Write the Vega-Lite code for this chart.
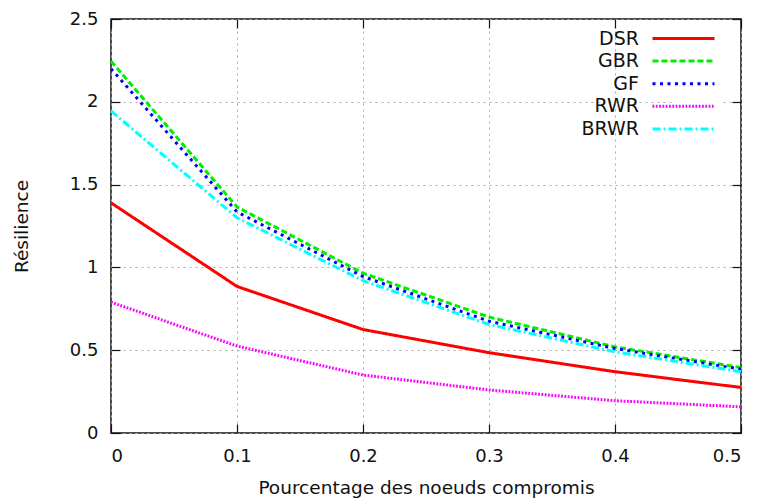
{
  "$schema": "https://vega.github.io/schema/vega-lite/v6.json",
  "autosize": "none",
  "width": 630,
  "height": 414,
  "padding": {"left": 111, "top": 19, "right": 19, "bottom": 65},
  "background": "white",
  "config": {
    "font": "DejaVu Sans",
    "view": {"stroke": "#111111", "strokeWidth": 1.5},
    "axis": {
      "domain": false,
      "labelFont": "DejaVu Sans",
      "titleFont": "DejaVu Sans",
      "labelFontSize": 18,
      "titleFontSize": 18.5,
      "labelColor": "#111111",
      "titleColor": "#111111",
      "titleFontWeight": "normal",
      "tickColor": "#111111",
      "tickWidth": 1.2,
      "tickSize": -9,
      "gridColor": "#aaaaaa",
      "gridDash": [2, 4],
      "gridWidth": 1
    }
  },
  "data": {
    "values": [
      {"x": 0, "s": "DSR", "y": 1.39},
      {"x": 0.1, "s": "DSR", "y": 0.885},
      {"x": 0.2, "s": "DSR", "y": 0.625},
      {"x": 0.3, "s": "DSR", "y": 0.485},
      {"x": 0.4, "s": "DSR", "y": 0.37},
      {"x": 0.5, "s": "DSR", "y": 0.275},
      {"x": 0, "s": "GBR", "y": 2.245},
      {"x": 0.1, "s": "GBR", "y": 1.365},
      {"x": 0.2, "s": "GBR", "y": 0.965},
      {"x": 0.3, "s": "GBR", "y": 0.7},
      {"x": 0.4, "s": "GBR", "y": 0.52},
      {"x": 0.5, "s": "GBR", "y": 0.395},
      {"x": 0, "s": "GF", "y": 2.2},
      {"x": 0.1, "s": "GF", "y": 1.335},
      {"x": 0.2, "s": "GF", "y": 0.945},
      {"x": 0.3, "s": "GF", "y": 0.675},
      {"x": 0.4, "s": "GF", "y": 0.51},
      {"x": 0.5, "s": "GF", "y": 0.385},
      {"x": 0, "s": "RWR", "y": 0.79},
      {"x": 0.1, "s": "RWR", "y": 0.525},
      {"x": 0.2, "s": "RWR", "y": 0.35},
      {"x": 0.3, "s": "RWR", "y": 0.26},
      {"x": 0.4, "s": "RWR", "y": 0.195},
      {"x": 0.5, "s": "RWR", "y": 0.158},
      {"x": 0, "s": "BRWR", "y": 1.945},
      {"x": 0.1, "s": "BRWR", "y": 1.3},
      {"x": 0.2, "s": "BRWR", "y": 0.92},
      {"x": 0.3, "s": "BRWR", "y": 0.655},
      {"x": 0.4, "s": "BRWR", "y": 0.49},
      {"x": 0.5, "s": "BRWR", "y": 0.37}
    ]
  },
  "resolve": {"axis": {"x": "independent", "y": "independent"}},
  "layer": [
    {
      "mark": {"type": "line", "strokeWidth": 3, "strokeCap": "butt"},
      "encoding": {
        "x": {
          "field": "x", "type": "quantitative",
          "scale": {"domain": [0, 0.5], "nice": false, "zero": false},
          "axis": {"orient": "bottom", "values": [0, 0.1, 0.2, 0.3, 0.4, 0.5], "format": "~g", "labelPadding": 23, "title": "Pourcentage des noeuds compromis", "titlePadding": 13, "grid": true}
        },
        "y": {
          "field": "y", "type": "quantitative",
          "scale": {"domain": [0, 2.5], "nice": false},
          "axis": {"orient": "left", "values": [0, 0.5, 1, 1.5, 2, 2.5], "format": "~g", "labelPadding": 22, "title": "Résilience", "titlePadding": 38, "grid": true}
        },
        "color": {
          "field": "s", "type": "nominal",
          "scale": {"domain": ["DSR", "GBR", "GF", "RWR", "BRWR"], "range": ["#ff0000", "#00ee00", "#0000ff", "#ff00ff", "#00ffff"]},
          "legend": {
            "title": null,
            "orient": "none",
            "legendX": 563,
            "legendY": 10,
            "padding": 0,
            "fillColor": "white",
            "symbolType": "M-6.2,0H6.2",
            "symbolSize": 100,
            "symbolStrokeWidth": 3,
            "rowPadding": 2.6,
            "labelAlign": "right",
            "labelOffset": -54,
            "labelFontSize": 19,
            "labelFont": "DejaVu Sans",
            "labelColor": "#111111",
            "labelLimit": 200
          }
        },
        "strokeDash": {
          "field": "s", "type": "nominal",
          "scale": {"domain": ["DSR", "GBR", "GF", "RWR", "BRWR"], "range": [[1, 0], [6, 3], [3, 4.5], [1.8, 1.5], [8, 3, 2, 3]]}
        }
      }
    },
    {
      "mark": {"type": "point", "opacity": 0},
      "encoding": {
        "x": {
          "field": "x", "type": "quantitative",
          "scale": {"domain": [0, 0.5], "nice": false, "zero": false},
          "axis": {"orient": "top", "values": [0, 0.1, 0.2, 0.3, 0.4, 0.5], "labels": false, "title": null, "grid": false}
        },
        "y": {
          "field": "y", "type": "quantitative",
          "scale": {"domain": [0, 2.5], "nice": false},
          "axis": {"orient": "right", "values": [0, 0.5, 1, 1.5, 2, 2.5], "labels": false, "title": null, "grid": false}
        }
      }
    }
  ]
}
